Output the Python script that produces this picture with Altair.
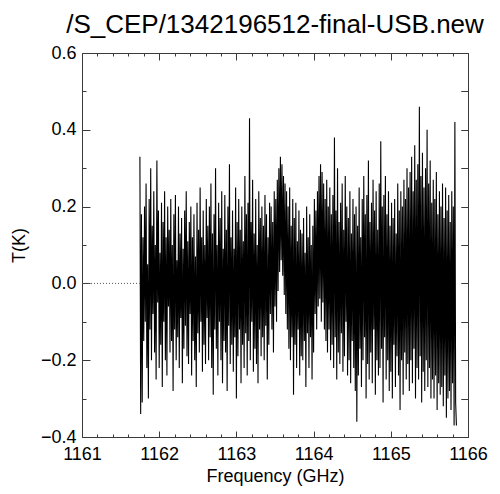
import altair as alt
import pandas as pd

title_text = "/S_CEP/1342196512-final-USB.new"
x_title = "Frequency (GHz)"
y_title = "T(K)"

# spectrum: channels every 0.01 GHz starting at 1161.75 GHz, values in K
f_start = 1161.75
f_step = 0.01
t_values = [
    0.33, -0.34, 0.18, -0.31, 0.12, -0.15, 0.2, -0.1, 0.26, -0.22,
    0.05, -0.3, 0.22, -0.12, 0.3, -0.2, 0.15, -0.08, 0.24, -0.18,
    0.1, -0.25, 0.32, -0.05, 0.19, -0.22, 0.08, -0.16, 0.21, -0.27,
    0.16, -0.1, 0.24, -0.2, 0.12, -0.24, 0.2, -0.06, 0.14, -0.18,
    0.22, -0.15, 0.1, -0.28, 0.18, -0.12, 0.23, -0.2, 0.06, -0.14,
    0.2, -0.22, 0.13, -0.09, 0.17, -0.26, 0.09, -0.17, 0.19, -0.11,
    0.24, -0.19, 0.11, -0.21, 0.16, -0.08, 0.2, -0.24, 0.12, -0.15,
    0.18, -0.2, 0.07, -0.27, 0.21, -0.13, 0.14, -0.18, 0.25, -0.1,
    0.12, -0.23, 0.19, -0.16, 0.1, -0.21, 0.22, -0.09, 0.15, -0.2,
    0.2, -0.14, 0.26, -0.22, 0.13, -0.29, 0.18, -0.12, 0.3, -0.17,
    0.1, -0.24, 0.21, -0.1, 0.17, -0.2, 0.24, -0.26, 0.09, -0.15,
    0.23, -0.18, 0.14, -0.28, 0.2, -0.11, 0.31, -0.21, 0.12, -0.16,
    0.19, -0.23, 0.09, -0.14, 0.25, -0.3, 0.16, -0.19, 0.22, -0.12,
    0.14, -0.26, 0.2, -0.16, 0.11, -0.22, 0.28, -0.13, 0.18, -0.24,
    0.21, -0.15, 0.43, -0.2, 0.16, -0.1, 0.27, -0.23, 0.13, -0.17,
    0.22, -0.21, 0.1, -0.26, 0.24, -0.12, 0.17, -0.19, 0.2, -0.14,
    0.15, -0.2, 0.23, -0.11, 0.18, -0.25, 0.12, -0.16, 0.21, -0.08,
    0.2, -0.12, 0.16, -0.18, 0.24, -0.06, 0.22, -0.1, 0.27, -0.02,
    0.3, 0.03, 0.33, 0.06, 0.31, 0.02, 0.28, -0.03, 0.26, -0.08,
    0.24, -0.12, 0.2, -0.17, 0.25, -0.2, 0.15, -0.14, 0.22, -0.29,
    0.17, -0.16, 0.21, -0.22, 0.11, -0.12, 0.19, -0.24, 0.14, -0.19,
    0.13, -0.2, 0.17, -0.15, 0.08, -0.27, 0.2, -0.13, 0.12, -0.22,
    0.18, -0.14, 0.1, -0.25, 0.15, -0.18, 0.22, -0.08, 0.19, -0.12,
    0.24, -0.06, 0.28, -0.04, 0.31, -0.1, 0.29, -0.05, 0.26, -0.12,
    0.22, -0.15, 0.27, -0.18, 0.2, -0.12, 0.25, -0.2, 0.18, -0.16,
    0.23, -0.22, 0.38, -0.14, 0.19, -0.25, 0.3, -0.18, 0.16, -0.21,
    0.21, -0.13, 0.26, -0.23, 0.14, -0.19, 0.28, -0.1, 0.2, -0.24,
    0.17, -0.2, 0.24, -0.26, 0.13, -0.15, 0.22, -0.22, 0.18, -0.28,
    0.2, -0.36, 0.15, -0.24, 0.25, -0.17, 0.12, -0.27, 0.22, -0.2,
    0.28, -0.14, 0.18, -0.3, 0.23, -0.21, 0.32, -0.25, 0.16, -0.18,
    0.21, -0.26, 0.27, -0.12, 0.19, -0.29, 0.24, -0.2, 0.14, -0.24,
    0.26, -0.22, 0.37, -0.17, 0.2, -0.31, 0.23, -0.14, 0.28, -0.25,
    0.18, -0.2, 0.24, -0.28, 0.15, -0.23, 0.21, -0.3, 0.17, -0.16,
    0.22, -0.27, 0.13, -0.19, 0.26, -0.24, 0.19, -0.33, 0.24, -0.2,
    0.2, -0.29, 0.27, -0.18, 0.22, -0.25, 0.3, -0.21, 0.25, -0.28,
    0.29, -0.2, 0.33, -0.26, 0.24, -0.17, 0.36, -0.3, 0.27, -0.22,
    0.31, -0.25, 0.46, -0.19, 0.28, -0.31, 0.34, -0.23, 0.25, -0.28,
    0.3, -0.2, 0.4, -0.27, 0.26, -0.22, 0.32, -0.3, 0.21, -0.25,
    0.27, -0.3, 0.22, -0.24, 0.29, -0.33, 0.18, -0.26, 0.24, -0.29,
    0.2, -0.27, 0.26, -0.32, 0.17, -0.24, 0.25, -0.35, 0.19, -0.3,
    0.23, -0.28, 0.16, -0.33, 0.24, -0.26, 0.2, -0.37, 0.42, -0.31,
    -0.37,
]

# dotted zero baseline left of the data
base_f = [1161.0, 1161.75]
base_t = [0.0, 0.0]

x_major = [1161, 1162, 1163, 1164, 1165, 1166]
x_minor = [1161.2, 1161.4, 1161.6, 1161.8, 1162.2, 1162.4, 1162.6, 1162.8,
           1163.2, 1163.4, 1163.6, 1163.8, 1164.2, 1164.4, 1164.6, 1164.8,
           1165.2, 1165.4, 1165.6, 1165.8]
y_major = [-0.4, -0.2, 0.0, 0.2, 0.4, 0.6]
y_minor = [-0.3, -0.1, 0.1, 0.3, 0.5]
y_all = sorted(y_major + y_minor)

spec_df = pd.DataFrame({
    "f": [f_start + i * f_step for i in range(len(t_values))],
    "t": t_values,
})
base_df = pd.DataFrame({"f": base_f, "t": base_t})

W, H = 386, 384
FONT = "Liberation Sans"
AX = "#3a3a3a"
xs = alt.Scale(domain=[1161, 1166], nice=False, zero=False)
ys = alt.Scale(domain=[-0.4, 0.6], nice=False, zero=False)


def tick_axis(orient, offset, values, size):
    return alt.Axis(orient=orient, offset=offset, values=values, tickSize=size,
                    labels=False, domain=False, grid=False, ticks=True,
                    tickColor=AX, tickWidth=1, title="")


x_lab = alt.Axis(orient="bottom", values=x_major, format="d", ticks=False, domain=False,
                 grid=False, labelFont=FONT, labelFontSize=18, labelColor="black",
                 labelPadding=8, labelOverlap=False, labelFlush=False, labelBound=False,
                 titleFont=FONT, titleFontSize=18, titleFontWeight="normal",
                 titleColor="black", titlePadding=4)
y_lab = alt.Axis(orient="left", values=y_major, format=".1f", ticks=False, domain=False,
                 grid=False, labelFont=FONT, labelFontSize=18, labelColor="black",
                 labelPadding=6, labelOverlap=False, labelFlush=False, labelBound=False,
                 titleFont=FONT, titleFontSize=18, titleFontWeight="normal",
                 titleColor="black", titlePadding=12)

spectrum = alt.Chart(spec_df).mark_line(color="black", strokeWidth=1.1).encode(
    x=alt.X("f:Q", scale=xs, axis=x_lab, title=x_title),
    y=alt.Y("t:Q", scale=ys, axis=y_lab, title=y_title),
)

baseline = alt.Chart(base_df).mark_line(color="#555555", strokeWidth=1, strokeDash=[1, 2]).encode(
    x=alt.X("f:Q", scale=xs, axis=tick_axis("top", -H, x_major, 6)),
    y=alt.Y("t:Q", scale=ys, axis=tick_axis("right", -W, y_major, 8)),
)

t2 = alt.Chart(base_df).mark_line(opacity=0).encode(
    x=alt.X("f:Q", scale=xs, axis=tick_axis("top", -H, x_minor, 3)),
    y=alt.Y("t:Q", scale=ys, axis=tick_axis("right", -W, y_minor, 4)),
)
t3 = alt.Chart(base_df).mark_line(opacity=0).encode(
    x=alt.X("f:Q", scale=xs, axis=tick_axis("bottom", -H, x_major, 7)),
    y=alt.Y("t:Q", scale=ys, axis=tick_axis("left", -W, y_all, 7)),
)
t4 = alt.Chart(base_df).mark_line(opacity=0).encode(
    x=alt.X("f:Q", scale=xs, axis=tick_axis("bottom", -H, x_minor, 3)),
    y=alt.Y("t:Q", scale=ys, axis=tick_axis("left", -W, y_all, 7)),
)

chart = alt.layer(spectrum, baseline, t2, t3, t4).resolve_axis(
    x="independent", y="independent"
).properties(
    width=W, height=H,
    padding={"left": 74, "top": 45, "right": 24, "bottom": 51},
    autosize=alt.AutoSizeParams(type="none"),
    title=alt.TitleParams(title_text, font=FONT, fontSize=26, fontWeight="normal",
                          color="black", anchor="middle", frame="group", offset=6),
).configure_view(stroke=AX, strokeWidth=1)

chart.save("out.html", embed_options={"renderer": "svg", "actions": False})
